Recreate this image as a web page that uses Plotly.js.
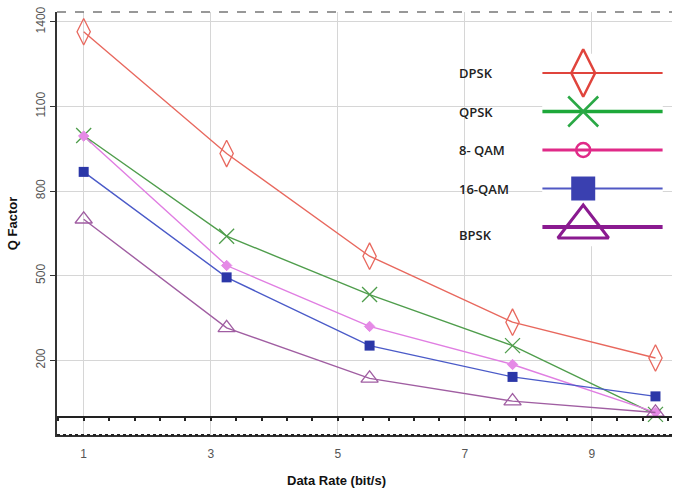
<!DOCTYPE html>
<html>
<head>
<meta charset="utf-8">
<script src="https://cdn.plot.ly/plotly-3.0.1.min.js"></script>
<style>html,body{margin:0;padding:0;background:#fff;}#chart{width:675px;height:494px;}</style>
</head>
<body>
<div id="chart"></div>
<script>
// ---- data ----
var dataRate = [1, 3.25, 5.5, 7.75, 10];
var seriesNames = ['DPSK', 'QPSK', '8- QAM', '16-QAM', 'BPSK'];
var dpsk   = [1365, 933, 569, 335, 208];
var qpsk   = [997, 640, 433, 252, 8];
var qam8   = [995, 536, 320, 185, 15];
var qam16  = [868, 494, 252, 141, 72];
var bpsk   = [700, 315, 136, 55, 15];
var xTickVals = [1, 3, 5, 7, 9];
var yTickVals = [200, 500, 800, 1100, 1400];

var seriesValues = [dpsk, qpsk, qam8, qam16, bpsk];
var styles = [
  {line:'#e8685e', mcol:'#e8685e', sym:'diamond-tall-open', size:19, mlw:1.3,
   lline:'#e0443c', lmcol:'#e0443c', lsym:'diamond-tall-open', lsize:34, llw:2, lmlw:2.5},
  {line:'#4f9d4c', mcol:'#4f9d4c', sym:'x-thin-open', size:15, mlw:1.3,
   lline:'#1ea83a', lmcol:'#2aa845', lsym:'x-thin-open', lsize:30, llw:3.5, lmlw:2.5},
  {line:'#e07ee2', mcol:'#e58ae6', sym:'diamond', size:8, mlw:1,
   lline:'#e02a88', lmcol:'#e02a88', lsym:'circle-open', lsize:14, llw:3, lmlw:2.5},
  {line:'#4a5ac8', mcol:'#2b37a8', sym:'square', size:10, mlw:0,
   lline:'#5058c4', lmcol:'#3a40b0', lsym:'square', lsize:24, llw:2, lmlw:0},
  {line:'#a05ea2', mcol:'#a05ea2', sym:'triangle-up-open', size:15, mlw:1.3,
   lline:'#8a1a90', lmcol:'#8a1a90', lsym:'triangle-up-open', lsize:44, llw:4, lmlw:3}
];

var traces = [];
seriesValues.forEach(function(vals, i){
  var s = styles[i];
  traces.push({
    x: dataRate, y: vals, name: seriesNames[i], type: 'scatter', mode: 'lines+markers',
    xaxis: 'x', yaxis: 'y', showlegend: false, hoverinfo: 'skip',
    line: {color: s.line, width: 1.4},
    marker: {symbol: s.sym, size: s.size, color: s.mcol, line: {color: s.mcol, width: s.mlw}}
  });
});

// invisible trace so the overlaid tick axis along y = 0 is drawn
traces.push({x: dataRate, y: bpsk, type: 'scatter', mode: 'none', xaxis: 'x2', yaxis: 'y',
             showlegend: false, hoverinfo: 'skip'});

// custom legend: glyph samples on their own small axes, labels to the left
var legendGlyphX = [0, 0.34, 1];
var annotations = [];
seriesNames.forEach(function(name, i){
  var s = styles[i];
  traces.push({
    x: legendGlyphX, y: [i, i, i], type: 'scatter', mode: 'lines+markers',
    xaxis: 'x3', yaxis: 'y3', showlegend: false, hoverinfo: 'skip', cliponaxis: false,
    line: {color: s.lline, width: s.llw},
    marker: {symbol: s.lsym, size: s.lsize, color: s.lmcol, opacity: [0, 1, 0],
             line: {color: s.lmcol, width: s.lmlw}}
  });
  annotations.push({
    xref: 'paper', yref: 'y3', x: 0.650, y: i + (i === 4 ? 0.2 : 0), xanchor: 'left', yanchor: 'middle',
    text: name, showarrow: false,
    font: {family: 'Open Sans, Arial, sans-serif', size: 13, color: '#222', weight: 600}
  });
});

annotations.push({
  xref: 'paper', yref: 'paper', x: 0.454, y: -0.108, xanchor: 'center', yanchor: 'middle',
  text: 'Data Rate (bit/s)', showarrow: false,
  font: {family: 'Arial, Liberation Sans, sans-serif', size: 13, color: '#111', weight: 'bold'}
});
annotations.push({
  xref: 'paper', yref: 'paper', x: -0.072, y: 0.50, xanchor: 'center', yanchor: 'middle',
  text: 'Q Factor', textangle: -90, showarrow: false,
  font: {family: 'Arial, Liberation Sans, sans-serif', size: 13, color: '#111', weight: 'bold'}
});

var yMin = -65, yMax = 1435;
var layout = {
  width: 675, height: 494,
  margin: {l: 57, r: 3, t: 12, b: 59},
  paper_bgcolor: '#fff', plot_bgcolor: '#fff',
  showlegend: false,
  xaxis: {
    range: [0.58, 10.26], tickvals: xTickVals, ticktext: xTickVals.map(String),
    showgrid: true, gridcolor: '#d6d6d6', gridwidth: 1,
    zeroline: false, showline: true, linecolor: '#333', linewidth: 2,
    ticks: 'outside', ticklen: 7, tickcolor: 'rgba(0,0,0,0)',
    tickfont: {family: 'Arial, Liberation Sans, sans-serif', size: 12, color: '#555'}
  },
  xaxis2: {
    overlaying: 'x', range: [0.58, 10.26], anchor: 'free', position: (0 - yMin) / (yMax - yMin),
    side: 'bottom', showgrid: false, zeroline: false, showline: true,
    linecolor: '#222', linewidth: 2, ticks: 'outside', ticklen: 3, tickwidth: 2, tickcolor: '#222',
    tick0: 1, dtick: 0.4, showticklabels: false
  },
  yaxis: {
    range: [yMin, yMax], tickvals: yTickVals, ticktext: yTickVals.map(String),
    showgrid: true, gridcolor: '#d6d6d6', gridwidth: 1,
    zeroline: true, zerolinecolor: '#222', zerolinewidth: 2,
    showline: true, linecolor: '#333', linewidth: 2,
    ticks: 'outside', ticklen: 5, tickcolor: '#333', tickangle: -90,
    tickfont: {family: 'Arial, Liberation Sans, sans-serif', size: 12, color: '#555'}
  },
  xaxis3: {domain: [0.789, 0.985], range: [0, 1], anchor: 'y3', visible: false, fixedrange: true},
  yaxis3: {domain: [0.4462, 0.9013], range: [4.5, -0.5], anchor: 'x3', visible: false, fixedrange: true},
  shapes: [
    {type: 'rect', xref: 'paper', yref: 'paper', x0: 0.732, x1: 1, y0: 0.372, y1: 0.988,
     fillcolor: '#fff', line: {width: 0}, layer: 'between'},
    {type: 'rect', xref: 'paper', yref: 'paper', x0: 0.626, x1: 1, y0: 0.449, y1: 0.915,
     fillcolor: '#fff', line: {width: 0}, layer: 'between'},
    {type: 'line', xref: 'paper', yref: 'paper', x0: 0, x1: 1, y0: 1, y1: 1,
     line: {color: '#777', width: 1.5, dash: 'dash'}},
    {type: 'line', xref: 'paper', yref: 'paper', x0: 0, x1: 1, y0: 0, y1: 0,
     line: {color: '#222', width: 2, dash: 'dot'}}
  ],
  annotations: annotations
};

Plotly.newPlot('chart', traces, layout, {staticPlot: true, displayModeBar: false});
</script>
</body>
</html>
